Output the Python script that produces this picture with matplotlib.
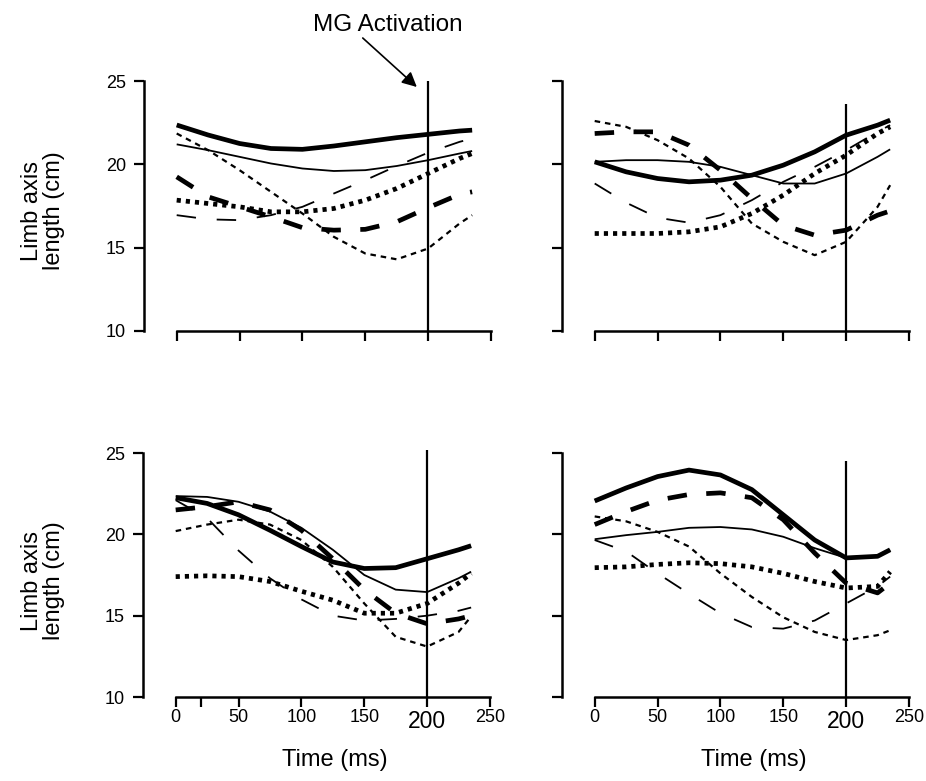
import numpy as np
import matplotlib.pyplot as plt

plt.rcParams['font.family'] = ['Liberation Sans', 'DejaVu Sans']
plt.rcParams['lines.scale_dashes'] = False

# time points (ms)
t = [0, 25, 50, 75, 100, 125, 150, 175, 200, 225, 235]

# top left
tl_thick_solid = [22.36, 21.76, 21.25, 20.95, 20.9, 21.1, 21.35, 21.6, 21.8, 22.0, 22.05]
tl_thin_solid = [21.2, 20.85, 20.45, 20.05, 19.75, 19.6, 19.65, 19.9, 20.25, 20.65, 20.8]
tl_thick_dash = [19.25, 18.05, 17.45, 16.85, 16.2, 16.05, 16.1, 16.55, 17.4, 18.2, 18.35]
tl_thin_dash = [16.95, 16.7, 16.65, 16.95, 17.45, 18.25, 19.05, 19.9, 20.7, 21.35, 21.55]
tl_thick_dot = [17.85, 17.65, 17.45, 17.15, 17.15, 17.35, 17.85, 18.55, 19.45, 20.35, 20.65]
tl_short_dash = [21.85, 20.85, 19.65, 18.35, 17.05, 15.65, 14.65, 14.3, 14.95, 16.45, 16.95]

# top right
tr_thick_solid = [20.15, 19.55, 19.15, 18.95, 19.05, 19.35, 19.95, 20.75, 21.75, 22.35, 22.65]
tr_thin_solid = [20.15, 20.25, 20.25, 20.15, 19.85, 19.35, 18.85, 18.85, 19.45, 20.45, 20.9]
tr_thick_dash = [21.85, 21.95, 21.95, 21.15, 19.65, 17.95, 16.35, 15.75, 16.05, 16.95, 17.2]
tr_thin_dash = [18.85, 17.7, 16.8, 16.5, 16.95, 17.85, 18.95, 19.85, 20.85, 21.95, 22.35]
tr_thick_dot = [15.85, 15.85, 15.85, 15.95, 16.25, 17.05, 18.15, 19.45, 20.55, 21.85, 22.25]
tr_short_dash = [22.6, 22.25, 21.45, 20.35, 18.65, 16.45, 15.35, 14.55, 15.35, 17.45, 18.75]

# bottom left
bl_thick_solid = [22.25, 21.9, 21.2, 20.25, 19.25, 18.3, 17.9, 17.95, 18.5, 19.05, 19.3]
bl_thin_solid = [22.35, 22.3, 22.0, 21.4, 20.4, 19.05, 17.5, 16.6, 16.45, 17.3, 17.7]
bl_thick_dash = [21.5, 21.7, 22.0, 21.5, 20.25, 18.5, 16.6, 15.15, 14.5, 14.8, 15.0]
bl_thin_dash = [22.1, 21.0, 19.0, 17.3, 16.0, 15.0, 14.7, 14.8, 15.0, 15.3, 15.5]
bl_thick_dot = [17.4, 17.45, 17.4, 17.1, 16.5, 15.95, 15.15, 15.15, 15.75, 17.0, 17.6]
bl_short_dash = [20.2, 20.6, 20.9, 20.6, 19.65, 18.0, 15.75, 13.7, 13.1, 14.0, 14.95]

# bottom right
br_thick_solid = [22.05, 22.85, 23.55, 23.95, 23.65, 22.75, 21.2, 19.65, 18.55, 18.65, 19.05]
br_thin_solid = [19.7, 19.95, 20.15, 20.4, 20.45, 20.3, 19.85, 19.15, 18.55, 18.65, 19.05]
br_thick_dash = [20.6, 21.4, 22.1, 22.45, 22.55, 22.25, 20.9, 18.85, 17.0, 16.4, 17.0]
br_thin_dash = [19.65, 18.95, 17.6, 16.35, 15.15, 14.3, 14.2, 14.7, 15.75, 16.8, 17.4]
br_thick_dot = [17.95, 18.0, 18.15, 18.25, 18.2, 18.0, 17.6, 17.1, 16.7, 16.8, 17.7]
br_short_dash = [21.1, 20.8, 20.15, 19.25, 17.6, 16.15, 14.9, 14.0, 13.5, 13.8, 14.1]

panels = [
    [tl_thick_solid, tl_thin_solid, tl_thick_dash, tl_thin_dash, tl_thick_dot, tl_short_dash],
    [tr_thick_solid, tr_thin_solid, tr_thick_dash, tr_thin_dash, tr_thick_dot, tr_short_dash],
    [bl_thick_solid, bl_thin_solid, bl_thick_dash, bl_thin_dash, bl_thick_dot, bl_short_dash],
    [br_thick_solid, br_thin_solid, br_thick_dash, br_thin_dash, br_thick_dot, br_short_dash],
]
vline_top = [25, 23.6, 25.2, 24.5]

# (linewidth, dashes) per series
styles = [
    (3.4, None),
    (1.3, None),
    (3.4, (14, 14)),
    (1.3, (14, 15)),
    (3.4, (3, 3.6)),
    (1.6, (4, 3.5)),
]

W, H = 926, 781
rects = [
    (144, 81, 331), (562, 81, 331),
    (143, 453, 697), (562, 453, 697),
]

fig = plt.figure(figsize=(W / 100, H / 100), dpi=100)
axes = []
for i, (xl, ytop, ybot) in enumerate(rects):
    ax = fig.add_axes([xl / W, 1 - ybot / H, 347 / W, (ybot - ytop) / H])
    for y, (lw, d) in zip(panels[i], styles):
        line, = ax.plot(t, y, color='black', lw=lw, solid_capstyle='butt',
                        dash_capstyle='butt', solid_joinstyle='round')
        if d is not None:
            line.set_dashes(d)
    ax.vlines(200, 10, vline_top[i], color='black', lw=1.6, clip_on=False)
    ax.set_xlim(-26, 250)
    ax.set_ylim(10, 25)
    for s in ['top', 'right']:
        ax.spines[s].set_visible(False)
    ax.spines['bottom'].set_bounds(0, 250)
    ax.spines['left'].set_bounds(10, 25)
    for s in ['bottom', 'left']:
        ax.spines[s].set_linewidth(1.8)
    ax.set_xticks([0, 50, 100, 150, 200, 250])
    ax.set_yticks([10, 15, 20, 25])
    ax.tick_params(direction='out', length=7, width=1.6, labelsize=13, pad=6)
    ax.tick_params(axis='x', pad=2)
    if i < 2:
        ax.set_xticklabels([])
    else:
        ax.set_xticklabels(['0', '50', '100', '150', '200', '250'])
        ax.get_xticklabels()[4].set_fontsize(16.5)
    if i % 2 == 1:
        ax.set_yticklabels([])
    ax.patch.set_visible(False)
    axes.append(ax)

axes[2].set_xticks([20], minor=True)
axes[2].tick_params(which='minor', direction='out', length=7, width=1.6)

# axis titles
for yc in [211, 581]:
    fig.text(43 / W, 1 - yc / H, 'Limb axis\nlength (cm)', rotation=90,
             ha='center', va='center', fontsize=17, linespacing=1.05)
for xc in [335, 754]:
    fig.text(xc / W, 1 - 760 / H, 'Time (ms)', ha='center', va='center', fontsize=17)

axes[0].text(168, 28.35, 'MG Activation', fontsize=17.5, ha='center', va='center')
axes[0].annotate('', xy=(191, 24.64), xytext=(148, 27.58),
                 annotation_clip=False,
                 arrowprops=dict(arrowstyle='-|>', color='black', lw=1.2,
                                 mutation_scale=22, shrinkA=0, shrinkB=0))

fig.savefig('out.png', dpi=100)
